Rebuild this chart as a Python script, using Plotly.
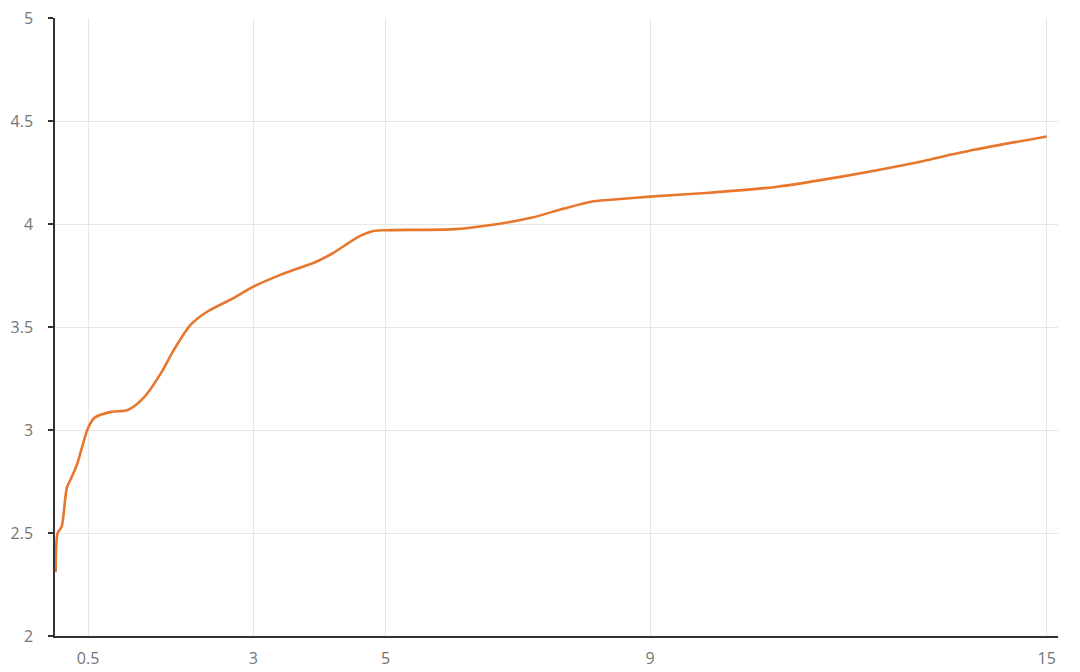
import plotly.graph_objects as go

x_vals = [0.01, 0.04, 0.1, 0.18, 0.25, 0.33, 0.5, 0.6, 0.85, 1.1, 1.35, 1.6, 1.8,
          2.05, 2.3, 2.7, 3.0, 3.4, 3.95, 4.2, 4.6, 4.8, 5.0, 6.05, 6.7, 7.2,
          7.7, 8.15, 8.5, 9.0, 9.9, 10.9, 11.9, 12.9, 13.9, 15.0]
y_vals = [2.31, 2.50, 2.53, 2.72, 2.77, 2.83, 3.01, 3.06, 3.088, 3.097, 3.16, 3.275,
          3.39, 3.51, 3.574, 3.64, 3.696, 3.752, 3.817, 3.858, 3.94, 3.965, 3.97,
          3.975, 4.0, 4.03, 4.075, 4.11, 4.12, 4.133, 4.152, 4.18, 4.23, 4.29,
          4.36, 4.425]

x_ticks = [0.5, 3, 5, 9, 15]
x_tick_text = ["0.5", "3", "5", "9", "15"]
y_ticks = [2, 2.5, 3, 3.5, 4, 4.5, 5]
y_tick_text = ["2", "2.5", "3", "3.5", "4", "4.5", "5"]

fig = go.Figure()
fig.add_trace(go.Scatter(
    x=x_vals, y=y_vals, mode="lines",
    line=dict(color="#E8772E", width=2.6, shape="spline", smoothing=0.8),
    showlegend=False, hoverinfo="x+y",
))

fig.update_layout(
    width=1072, height=664,
    margin=dict(l=47, r=22, t=10, b=36, autoexpand=False),
    paper_bgcolor="white", plot_bgcolor="white",
    font=dict(family="Open Sans, Noto Sans, sans-serif", size=16, color="#757575"),
)
fig.update_xaxes(
    range=[0, 15.17], tickvals=x_ticks, ticktext=x_tick_text,
    showgrid=True, gridcolor="#e6e6e6", gridwidth=1,
    showline=True, linecolor="#333", linewidth=1.5,
    ticks="", zeroline=False, ticklabelstandoff=7, automargin=False,
    ticklabeloverflow="allow",
    tickfont=dict(size=16, color="#757575"),
)
fig.update_yaxes(
    range=[2, 5], tickvals=y_ticks, ticktext=y_tick_text,
    showgrid=True, gridcolor="#e6e6e6", gridwidth=1,
    showline=True, linecolor="#333", linewidth=1.5,
    ticks="outside", ticklen=5, tickcolor="#333", tickwidth=1.5,
    zeroline=False, ticklabelstandoff=12, automargin=False,
    ticklabeloverflow="allow",
    tickfont=dict(size=16, color="#757575"),
)

fig.write_html("out.html")
